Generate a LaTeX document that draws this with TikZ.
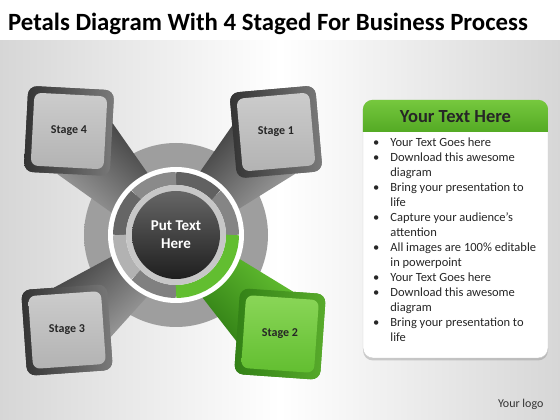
\documentclass[tikz,border=0pt]{standalone}
\usepackage{fontspec}
\setmainfont{Carlito}
\usetikzlibrary{shadows,positioning}

\definecolor{leafgreen}{RGB}{98,190,48}
\definecolor{darkleaf}{RGB}{50,128,22}
\definecolor{paleleaf}{RGB}{138,214,88}
\definecolor{hdrtop}{RGB}{118,200,62}
\definecolor{hdrbot}{RGB}{84,170,36}

\pgfdeclareradialshading{hubshade}{\pgfpoint{0bp}{0bp}}{%
  color(0bp)=(black!38); color(36bp)=(black!38); color(40bp)=(black!32); color(50bp)=(black!16)}

\begin{document}
\begin{tikzpicture}[x=1pt,y=1pt,
        stageframe/.style={
            rectangle,
            rounded corners=9pt,
            minimum size=86pt,
            inner sep=0pt,
            left color=black!80,
            right color=black!52
        },
        stageface/.style={
            rectangle,
            rounded corners=7pt,
            minimum size=73pt,
            inner sep=0pt,
            top color=black!20,
            bottom color=black!30,
            font=\bfseries\fontsize{12}{14}\selectfont,
            text=black!85
        },
        greenframe/.style={
            stageframe,
            left color=darkleaf,
            right color=leafgreen!90!black
        },
        greenface/.style={
            stageface,
            top color=paleleaf,
            bottom color=leafgreen
        },
        arm/.style={
            top color=black!74,
            bottom color=black!38
        },
        greenarm/.style={
            top color=darkleaf,
            bottom color=leafgreen
        },
        segment/.style={
            line width=13pt
        },
        panel/.style={
            rectangle,
            rounded corners=10pt,
            fill=white,
            draw=black!20,
            minimum width=185pt,
            minimum height=258pt,
            drop shadow={opacity=0.35, shadow xshift=0pt, shadow yshift=-2.5pt}
        },
        listtext/.style={
            inner sep=0pt,
            font=\fontsize{12.5}{15}\selectfont,
            text=black!85
        }
    ]

    % page and background band
    \useasboundingbox (0,0) rectangle (560,420);
    \fill[white] (0,0) rectangle (560,420);
    \shade[left color=black!16, right color=black!16, middle color=white] (0,0) rectangle (560,379);

    % title
    \node[anchor=base west, inner sep=0pt, font=\bfseries\fontsize{24.8}{27}\selectfont] (title) at (8,389)
        {Petals Diagram With 4 Staged For Business Process};

    % outer disk
    \node[circle, minimum size=184pt, inner sep=0pt, shading=hubshade] (hub) at (176,185) {};

    % stage boxes
    \node[stageframe, rotate=5] (frame1) at (276,288) {};
    \node[greenframe, rotate=-4] (frame2) at (280,86) {};
    \node[stageframe, rotate=4] (frame3) at (67,90) {};
    \node[stageframe, rotate=-3] (frame4) at (69,289) {};

    % arms from the disk to the boxes
    \shade[arm, shading angle=46] (frame1.167) -- ([shift={(70:64)}]hub.center) -- ([shift={(22:64)}]hub.center) -- (frame1.290) -- (frame1.center) -- cycle;
    \shade[greenarm, shading angle=136] (frame2.77) -- ([shift={(340:64)}]hub.center) -- ([shift={(292:64)}]hub.center) -- (frame2.193) -- (frame2.center) -- cycle;
    \shade[arm, shading angle=42] (frame3.103) -- ([shift={(198:64)}]hub.center) -- ([shift={(246:64)}]hub.center) -- (frame3.347) -- (frame3.center) -- cycle;
    \shade[arm, shading angle=-42] (frame4.13) -- ([shift={(114:64)}]hub.center) -- ([shift={(162:64)}]hub.center) -- (frame4.257) -- (frame4.center) -- cycle;

    % box faces
    \node[stageframe, rotate=5] at (frame1) {};
    \node[greenframe, rotate=-4] at (frame2) {};
    \node[stageframe, rotate=4] at (frame3) {};
    \node[stageframe, rotate=-3] at (frame4) {};
    \node[stageface, rotate=5] (stage1) at (frame1) {\rotatebox{-5}{Stage 1}};
    \node[greenface, rotate=-4] (stage2) at (frame2) {\rotatebox{4}{Stage 2}};
    \node[stageface, rotate=4] (stage3) at (frame3) {\rotatebox{-4}{Stage 3}};
    \node[stageface, rotate=-3] (stage4) at (frame4) {\rotatebox{3}{Stage 4}};

    % rings of the hub
    \node[circle, fill=white, minimum size=136pt, inner sep=0pt] (ring) at (hub) {};
    \draw[segment, draw=black!48] ([shift={(0:56.5)}]hub.center) arc[start angle=0, end angle=45, radius=56.5];
    \draw[segment, draw=black!62] ([shift={(45:56.5)}]hub.center) arc[start angle=45, end angle=90, radius=56.5];
    \draw[segment, draw=black!46] ([shift={(90:56.5)}]hub.center) arc[start angle=90, end angle=135, radius=56.5];
    \draw[segment, draw=black!60] ([shift={(135:56.5)}]hub.center) arc[start angle=135, end angle=180, radius=56.5];
    \draw[segment, draw=black!30] ([shift={(180:56.5)}]hub.center) arc[start angle=180, end angle=225, radius=56.5];
    \draw[segment, draw=black!50] ([shift={(225:56.5)}]hub.center) arc[start angle=225, end angle=270, radius=56.5];
    \draw[segment, draw=leafgreen] ([shift={(270:56.5)}]hub.center) arc[start angle=270, end angle=360, radius=56.5];
    \node[circle, fill=black!22, minimum size=100pt, inner sep=0pt] (inner) at (hub) {};
    \node[circle, minimum size=88pt, inner sep=0pt, top color=black!60, bottom color=black!88,
          text=white, align=center, font=\bfseries\fontsize{15}{18}\selectfont] (core) at (hub) {Put Text\\Here};

    % text panel
    \node[panel] (panel) at (455.5,191) {};
    \begin{scope}
        \clip[rounded corners=10pt] (panel.south west) rectangle (panel.north east);
        \shade[top color=hdrtop, bottom color=hdrbot] (panel.north west) rectangle ([yshift=-32pt]panel.north east);
    \end{scope}
    \node[font=\bfseries\fontsize{18.5}{20}\selectfont, text=black!85] (head) at ([yshift=-17pt]panel.north) {Your Text Here};
    \node[listtext, anchor=north west] (items) at (373,284) {%
        \begin{tabular}{@{}l@{\hspace{11pt}}l@{}}
            \textbullet & Your Text Goes here\\
            \textbullet & Download this awesome\\
                        & diagram\\
            \textbullet & Bring your presentation to\\
                        & life\\
            \textbullet & Capture your audience’s\\
                        & attention\\
            \textbullet & All images are 100\% editable\\
                        & in powerpoint\\
            \textbullet & Your Text Goes here\\
            \textbullet & Download this awesome\\
                        & diagram\\
            \textbullet & Bring your presentation to\\
                        & life
        \end{tabular}};

    % logo text
    \node[anchor=east, font=\fontsize{12}{14}\selectfont, text=black!80] (logo) at (547,16) {Your logo};

\end{tikzpicture}
\end{document}
